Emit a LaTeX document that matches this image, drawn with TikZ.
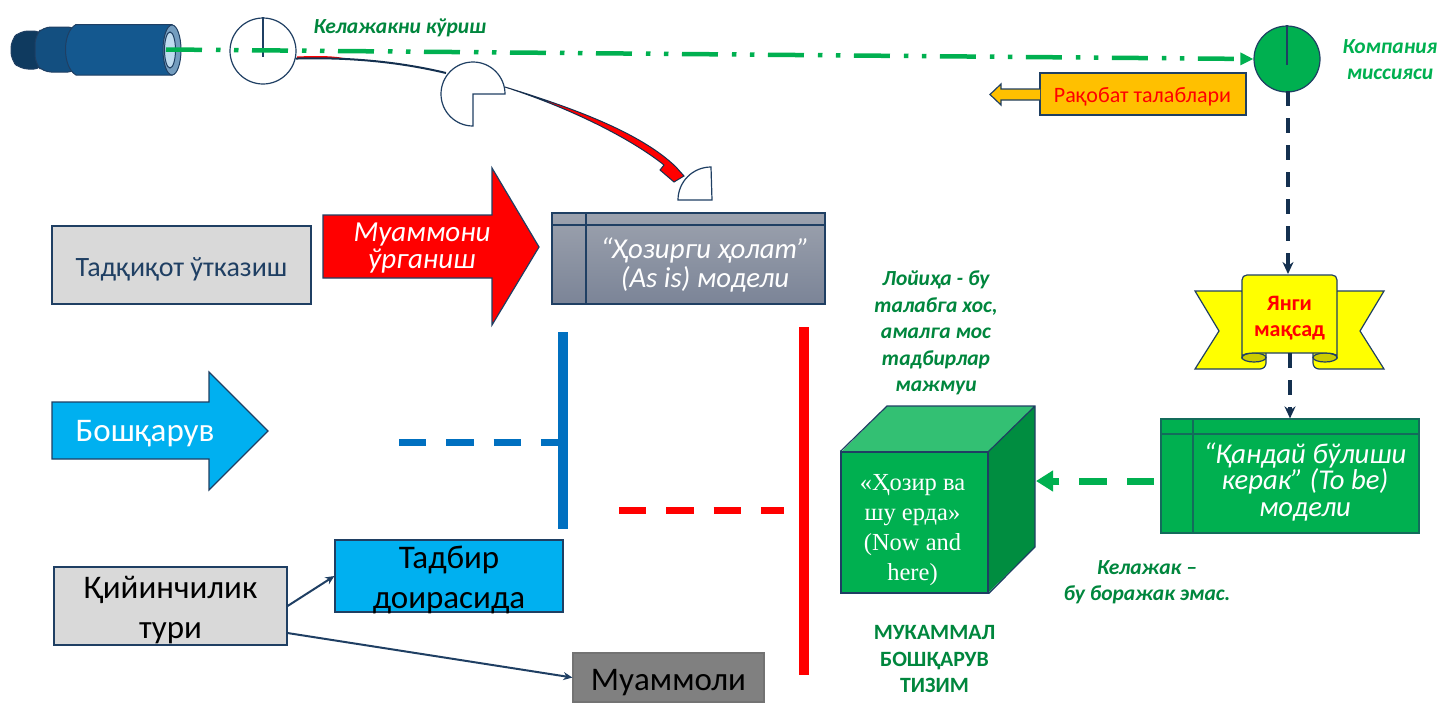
\documentclass[tikz,border=0pt]{standalone}
\usepackage{fontspec}
\setmainfont{Carlito}
\newfontfamily\serifcube{Liberation Serif}
\usetikzlibrary{arrows.meta}
\definecolor{navy}{HTML}{1F3F63}
\definecolor{deepnavy}{HTML}{14304F}
\definecolor{greenfill}{HTML}{00B050}
\definecolor{greentext}{HTML}{00863D}
\definecolor{skyfill}{HTML}{00B0F0}
\definecolor{greyfill}{HTML}{D9D9D9}
\definecolor{linkblue}{HTML}{0070C0}
\definecolor{amber}{HTML}{FFC000}
\definecolor{ribbon}{HTML}{FFFF00}
\definecolor{ribbonfold}{HTML}{CCCC00}
\definecolor{scopemain}{HTML}{14588F}
\definecolor{scopemid}{HTML}{134F80}
\definecolor{scoperear}{HTML}{0F3A5F}
\definecolor{slatetop}{HTML}{9CA2AE}
\definecolor{slatebottom}{HTML}{7B8497}
\tikzset{
  box/.style={rectangle,draw=navy,line width=1.2pt,inner sep=0pt,align=center},
  note/.style={align=center,font=\fontsize{21.5}{26.5}\selectfont\bfseries\itshape,text=greentext},
  bigtext/.style={align=center,font=\fontsize{33}{40.5}\selectfont},
  bar/.style={rectangle,inner sep=0pt,minimum width=10pt},
  link/.style={navy,line width=2pt,-{Stealth[length=9pt,width=8pt]}},
  navydash/.style={deepnavy,line width=3.5pt,dash pattern=on 15pt off 12pt,-{Stealth[length=12pt,width=11pt]}},
  thickdash/.style={line width=7pt,dash pattern=on 27.3pt off 20pt},
  sight/.style={circle,draw=navy,line width=1.2pt,minimum size=66pt,inner sep=0pt}
}
\begin{document}
\begin{tikzpicture}[x=1pt,y=-1pt]
\useasboundingbox (0,0) rectangle (1440,702);

% telescope
\draw[navy,line width=1pt,fill=scoperear,rounded corners=8pt] (42,31) -- (20,31) -- (11,40) -- (11,60) -- (20,69) -- (42,69) -- cycle;
\draw[navy,line width=1pt,fill=scopemid,rounded corners=8pt] (76,27) -- (43,27) -- (35,36) -- (35,63) -- (43,72) -- (76,72) -- cycle;
\draw[navy,line width=1pt,fill=scopemain] (172,24.5) -- (76,24.5) .. controls (62,32) and (62,67) .. (76,75) -- (172,75) -- cycle;
\draw[navy,line width=1pt,fill=linkblue!40!white!70!navy] (172,50) ellipse (9 and 25);
\draw[navy,line width=1pt,fill=linkblue!25!white] (170,50) ellipse (5.5 and 18);

% sights
\node[sight] (now) at (263,51) {};
\draw[navy,line width=1.2pt] (now.north) -- (263,57);
\coordinate (pac) at (473,94);
\draw[navy,line width=1.2pt,fill=white] (pac) -- (505,94) arc (0:-270:32) -- cycle;
\coordinate (quarter) at (712,200);
\draw[navy,line width=1.2pt,fill=white] (quarter) -- (678,200) arc (180:270:33) -- cycle;

% curved arrow
\fill[red] (297,56.5) .. controls (320,55.5) and (335,56) .. (346,58.5) -- (297,59) -- cycle;
\draw[deepnavy,line width=2pt] (now.-13) .. controls (350,57) and (400,62) .. (446,73);
\draw[deepnavy,line width=1pt,fill=red] (505,87) .. controls (570,107) and (640,132) .. (676,167) -- (684,176) -- (674,182) -- (660,170) -- (664,165) .. controls (630,138) and (570,108) .. cycle;

% vision line
\node[sight,fill=greenfill] (mission) at (1287,59) {};
\draw[navy,line width=1.2pt] (mission.north) -- (1287,65);
\coordinate (eye) at (166,49.5);
\draw[greenfill,line width=4.5pt,dash pattern=on 36pt off 14pt on 4.5pt off 13.5pt on 4.5pt off 13.5pt,-{Triangle[length=13pt,width=12pt]}] (eye) -- (mission.west);

\node[note] (vision) at (400,28) {Келажакни кўриш};
\node[note,text=greenfill] (missiontext) at (1390,59.5) {Компания\\миссияси};

% competition
\draw[navy,line width=1.2pt,fill=amber] (1040,73) rectangle (1246,115);
\draw[navy,line width=1.2pt,fill=amber] (1040,89) -- (1001,89) -- (1001,84) -- (990,94.5) -- (1001,105) -- (1001,100) -- (1040,100);
\node[text=red,font=\fontsize{22}{26}\selectfont] (rival) at (1142.5,97) {Рақобат талаблари};

% as is
\node[box,minimum width=273pt,minimum height=91pt,top color=slatetop,bottom color=slatebottom,draw=navy] (asis) at (688.5,258.5) {};
\draw[navy,line width=1.2pt] (586,213) -- (586,304) (552,225) -- (825,225);
\node[text=white,align=center,font=\fontsize{28.8}{29}\selectfont\itshape] (asistext) at (705,264.5) {“Ҳозирги ҳолат”\\(As is) модели};

% left column
\node[box,fill=greyfill,minimum width=259pt,minimum height=78pt] (study) at (181.5,265) {};
\node[text=navy,font=\fontsize{28}{32}\selectfont] (studytext) at (181.5,269) {Тадқиқот ўтказиш};
\draw[navy,line width=1.2pt,fill=red] (323,215) -- (492,215) -- (492,168) -- (539,247) -- (492,325) -- (492,278) -- (323,278) -- cycle;
\node[text=white,align=center,font=\fontsize{29}{27}\selectfont\itshape] (problem) at (422,248) {Муаммони\\ўрганиш};
\draw[navy,line width=1.2pt,fill=skyfill] (52,402) -- (209,402) -- (209,372) -- (268,431) -- (209,490) -- (209,459) -- (52,459) -- cycle;
\node[text=white,font=\fontsize{33}{36}\selectfont] (manage) at (145,434) {Бошқарув};

\node[box,fill=skyfill,minimum width=228pt,minimum height=72pt] (measure) at (449,576) {};
\node[bigtext] (measuretext) at (449,580) {Тадбир\\доирасида};
\node[box,fill=greyfill,minimum width=233pt,minimum height=78pt] (hard) at (170.5,606) {};
\node[bigtext] (hardtext) at (170.5,610) {Қийинчилик\\тури};
\node[box,fill=black!50,draw=black!55,minimum width=191pt,minimum height=49pt] (issue) at (668.5,677.5) {};
\node[bigtext] (issuetext) at (668.5,683) {Муаммоли};
\draw[link] (hard.east) -- (measure.west);
\draw[link] (hard.-13.5) -- (issue.west);

% bars
\node[bar,fill=linkblue,minimum height=197pt] (bluebar) at (563,430.5) {};
\node[bar,fill=red,minimum height=348pt] (redbar) at (803.5,501) {};
\coordinate (bluestart) at (399,442);
\coordinate (redstart) at (619,510);
\coordinate (redend) at (784,510);
\draw[linkblue,thickdash] (bluestart) -- (bluestart -| bluebar.west);
\draw[red,thickdash] (redstart) -- (redend);

% cube
\fill[greenfill!80!white] (841,452) -- (887,406) -- (1035,406) -- (988,452) -- cycle;
\fill[greenfill!80!black] (988,452) -- (1035,406) -- (1035,547) -- (988,593) -- cycle;
\node[box,fill=greenfill,minimum width=147pt,minimum height=141pt] (cube) at (914.5,522.5) {};
\node[text=white,align=center,font=\fontsize{24.5}{30}\selectfont\serifcube] (cubetext) at (912.5,530) {«Ҳозир ва\\шу ерда»\\(Now and\\here)};
\draw[navy,line width=1.2pt] (cube.north west) -- (887,406) -- (1035,406) -- (1035,547) -- (cube.south east) (cube.north east) -- (1035,406);

\node[note] (project) at (936,333) {Лойиҳа - бу\\талабга хос,\\амалга мос\\тадбирлар\\мажмуи};
\node[note] (future) at (1147,582) {Келажак --\\бу боражак эмас.};
\node[note,font=\fontsize{21.8}{26.5}\selectfont\bfseries] (system) at (934.5,659) {МУКАММАЛ\\БОШҚАРУВ\\ТИЗИМ};

% goal ribbon
\draw[navy,line width=1.2pt,fill=ribbon] (1242,291) -- (1195,291) -- (1219,331) -- (1195,369) -- (1260,369) arc (90:0:6) -- (1266,340) -- cycle;
\draw[navy,line width=1.2pt,fill=ribbon] (1337,291) -- (1384,291) -- (1360,331) -- (1384,369) -- (1319,369) arc (90:180:6) -- (1313,340) -- cycle;
\draw[navy,line width=1.2pt,fill=ribbonfold] (1254,357.5) ellipse (12 and 4.5);
\draw[navy,line width=1.2pt,fill=ribbonfold] (1325,357.5) ellipse (12 and 4.5);
\draw[navy,line width=1.2pt,fill=ribbon] (1242,357) -- (1242,280) .. controls (1242,277) and (1244,275) .. (1247,275) -- (1332,275) .. controls (1335,275) and (1337,277) .. (1337,280) -- (1337,357) .. controls (1337,354) and (1331,353) .. (1325,353) -- (1254,353) .. controls (1248,353) and (1242,354) .. cycle;
\node[text=red,align=center,font=\fontsize{22}{25.5}\selectfont\bfseries] (goal) at (1289.5,318) {Янги\\мақсад};
\coordinate (goaltop) at (1288,274);
\coordinate (goalbottom) at (1290,353);

% to be
\node[box,fill=greenfill,minimum width=258pt,minimum height=114pt,draw=navy!60!greenfill] (tobe) at (1290,476) {};
\draw[navy!60!greenfill,line width=1.2pt] (1193,419) -- (1193,533) (1161,434) -- (1419,434);
\node[text=white,align=center,font=\fontsize{28.7}{26.5}\selectfont\itshape] (tobetext) at (1305,482) {“Қандай бўлиши\\керак” (To be)\\модели};

% dashed links
\coordinate (missionfoot) at (1288,91);
\coordinate (tobestart) at (1154,481);
\coordinate (cubeside) at (1036,481);
\draw[navydash] (missionfoot) -- (goaltop);
\draw[navydash] (goalbottom) -- (tobe.north);
\draw[greenfill,thickdash,-{Triangle[length=17pt,width=20pt]}] (tobestart) -- (cubeside);
\end{tikzpicture}
\end{document}
